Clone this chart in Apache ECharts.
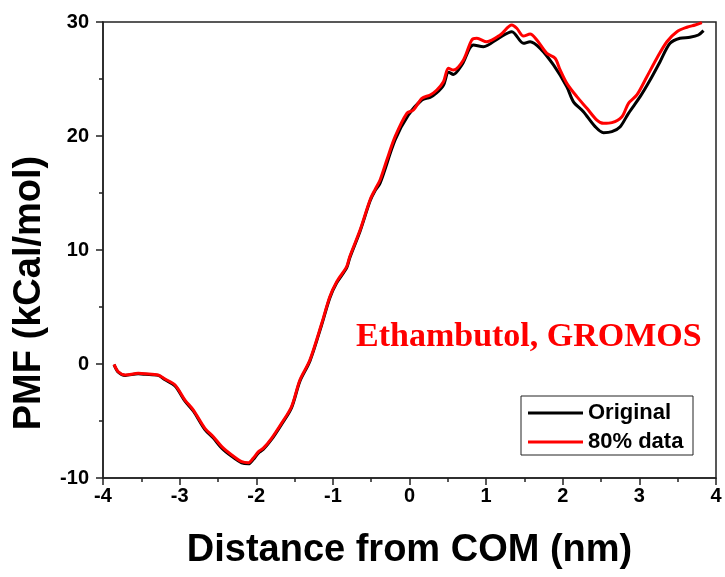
<!DOCTYPE html>
<html>
<head>
<meta charset="utf-8">
<script src="https://cdn.jsdelivr.net/npm/echarts@6/dist/echarts.min.js"></script>
<style>
  html, body { margin: 0; padding: 0; background: #fff; }
  #chart { width: 725px; height: 577px; }
</style>
</head>
<body>
<div id="chart"></div>
<script>
// PMF profiles along the COM distance (nm -> kCal/mol)
const origDistance = [-3.856, -3.80, -3.71, -3.54, -3.45, -3.28, -3.19, -3.06, -2.93, -2.82, -2.67, -2.56, -2.45, -2.32, -2.19, -2.10, -2.04, -1.97, -1.91, -1.80, -1.67, -1.54, -1.43, -1.30, -1.145, -1.04, -0.95, -0.82, -0.78, -0.645, -0.515, -0.45, -0.384, -0.188, -0.014, 0.161, 0.269, 0.357, 0.443, 0.51, 0.573, 0.683, 0.834, 0.965, 1.161, 1.336, 1.487, 1.574, 1.705, 1.879, 2.053, 2.14, 2.27, 2.423, 2.532, 2.641, 2.75, 2.858, 3.01, 3.14, 3.27, 3.40, 3.53, 3.66, 3.77, 3.837];
const origPMF = [-0.05, -0.72, -1.0, -0.86, -0.9, -1.0, -1.38, -1.92, -3.26, -4.14, -5.76, -6.5, -7.38, -8.1, -8.68, -8.76, -8.38, -7.8, -7.5, -6.62, -5.3, -3.85, -1.5, 0.25, 3.47, 5.8, 7.12, 8.44, 9.31, 11.65, 14.29, 15.2, 15.85, 19.65, 21.84, 23.16, 23.39, 23.8, 24.45, 25.6, 25.4, 26.23, 27.98, 27.83, 28.57, 29.15, 28.13, 28.27, 27.69, 26.23, 24.32, 23.0, 22.13, 20.82, 20.29, 20.38, 20.82, 21.99, 23.45, 24.91, 26.52, 28.13, 28.57, 28.66, 28.86, 29.24];

const subDistance = [-3.856, -3.80, -3.71, -3.54, -3.45, -3.28, -3.19, -3.06, -2.93, -2.82, -2.67, -2.56, -2.45, -2.32, -2.19, -2.10, -2.04, -1.97, -1.91, -1.80, -1.67, -1.54, -1.43, -1.30, -1.145, -1.04, -0.95, -0.82, -0.78, -0.645, -0.515, -0.45, -0.384, -0.296, -0.188, -0.035, 0.051, 0.161, 0.269, 0.357, 0.443, 0.508, 0.573, 0.704, 0.813, 0.879, 1.009, 1.183, 1.336, 1.40, 1.487, 1.574, 1.662, 1.792, 1.90, 1.966, 2.053, 2.184, 2.315, 2.445, 2.532, 2.641, 2.772, 2.858, 2.967, 3.098, 3.228, 3.359, 3.49, 3.62, 3.728, 3.816];
const subPMF = [-0.03, -0.68, -0.96, -0.82, -0.85, -0.96, -1.32, -1.84, -3.16, -4.04, -5.64, -6.38, -7.25, -7.98, -8.57, -8.66, -8.27, -7.69, -7.40, -6.52, -5.20, -3.75, -1.40, 0.35, 3.57, 5.90, 7.22, 8.54, 9.41, 11.75, 14.39, 15.3, 16.14, 17.89, 19.94, 21.99, 22.28, 23.31, 23.6, 24.04, 24.76, 25.94, 25.79, 26.67, 28.42, 28.57, 28.27, 28.86, 29.74, 29.45, 28.77, 28.95, 28.42, 27.25, 26.82, 25.79, 24.62, 23.45, 22.43, 21.40, 21.11, 21.17, 21.69, 22.87, 23.60, 25.2, 26.82, 28.27, 29.15, 29.54, 29.74, 29.94];

const seriesNames = ['Original', '80% data'];
const xTicks = { min: -4, max: 4, step: 1 };
const yTicks = { min: -10, max: 30, step: 10 };

const zip = (xs, ys) => xs.map((x, i) => [x, ys[i]]);

const chart = echarts.init(document.getElementById('chart'), null, { renderer: 'canvas' });

const sans = '"Liberation Sans", Arial, sans-serif';
const serif = '"Liberation Serif", "Times New Roman", serif';
const axisColor = '#222';

chart.setOption({
  backgroundColor: '#ffffff',
  animation: false,
  grid: {
    left: 103, right: 9, top: 22, bottom: 99,
    show: true, borderColor: axisColor, borderWidth: 1.5, backgroundColor: 'transparent'
  },
  legend: {
    orient: 'vertical',
    left: 521, top: 396,
    data: seriesNames.map(n => ({ name: n, icon: 'rect' })),
    itemWidth: 55, itemHeight: 3, itemGap: 7, itemTextGap: 7,
    padding: [6, 5, 2, 7],
    borderColor: axisColor, borderWidth: 1,
    backgroundColor: '#fff',
    textStyle: { fontFamily: sans, fontWeight: 'bold', fontSize: 22, color: '#000', lineHeight: 22, width: 100 }
  },
  xAxis: {
    type: 'value',
    min: xTicks.min, max: xTicks.max, interval: xTicks.step,
    name: 'Distance from COM (nm)',
    nameLocation: 'middle', nameGap: 54,
    nameTextStyle: { fontFamily: sans, fontWeight: 'bold', fontSize: 38, color: '#000' },
    axisLine: { onZero: false, lineStyle: { color: axisColor, width: 1.5 } },
    axisTick: { inside: false, length: 7, lineStyle: { color: axisColor, width: 1.5 } },
    minorTick: { show: true, splitNumber: 2, length: 4, lineStyle: { color: axisColor, width: 1.5 } },
    splitLine: { show: false },
    axisLabel: { margin: 8, fontFamily: sans, fontWeight: 'bold', fontSize: 20, color: '#000' }
  },
  yAxis: {
    type: 'value',
    min: yTicks.min, max: yTicks.max, interval: yTicks.step,
    axisLine: { show: true, onZero: false, lineStyle: { color: axisColor, width: 1.5 } },
    axisTick: { show: true, inside: false, length: 7, lineStyle: { color: axisColor, width: 1.5 } },
    minorTick: { show: true, splitNumber: 2, length: 4, lineStyle: { color: axisColor, width: 1.5 } },
    splitLine: { show: false },
    axisLabel: { margin: 14, fontFamily: sans, fontWeight: 'bold', fontSize: 20, color: '#000' }
  },
  graphic: [
    {
      type: 'text',
      x: 30, y: 293,
      rotation: Math.PI / 2,
      style: {
        text: 'PMF (kCal/mol)',
        font: 'bold 38px ' + sans,
        fill: '#000',
        align: 'center', verticalAlign: 'middle'
      }
    },
    {
      type: 'text',
      x: 356, y: 337,
      style: {
        text: 'Ethambutol, GROMOS',
        font: 'bold 34px ' + serif,
        fill: '#ff0000',
        align: 'left', verticalAlign: 'middle'
      }
    }
  ],
  series: [
    {
      name: seriesNames[0],
      type: 'line',
      data: zip(origDistance, origPMF),
      showSymbol: false,
      smooth: 0.3,
      lineStyle: { color: '#000000', width: 3 },
      itemStyle: { color: '#000000' },
      z: 2
    },
    {
      name: seriesNames[1],
      type: 'line',
      data: zip(subDistance, subPMF),
      showSymbol: false,
      smooth: 0.3,
      lineStyle: { color: '#ff0000', width: 3 },
      itemStyle: { color: '#ff0000' },
      z: 3
    }
  ]
});
</script>
</body>
</html>
